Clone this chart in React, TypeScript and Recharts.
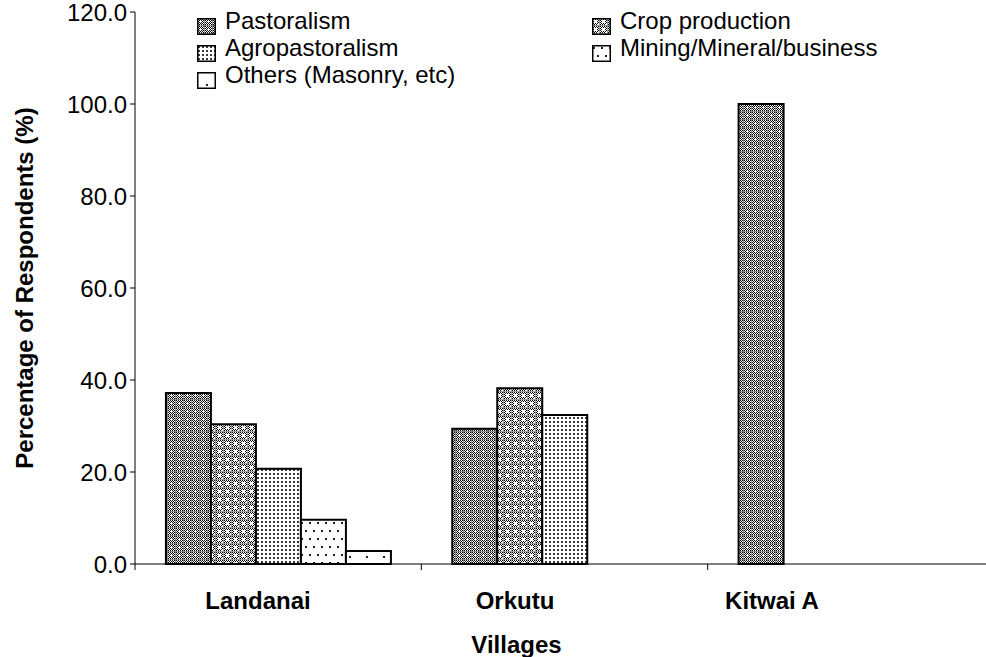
import React from 'react';
import { BarChart, Bar, XAxis, YAxis, Legend, Label } from 'recharts';

// ---- data ----
const villages = ['Landanai', 'Orkutu', 'Kitwai A'];
const pastoralism = [37.2, 29.4, 100.0];
const cropProduction = [30.4, 38.2, 0];
const agropastoralism = [20.7, 32.4, 0];
const mining = [9.6, 0, 0];
const others = [2.8, 0, 0];
const yTicks = [0, 20, 40, 60, 80, 100, 120];
const seriesNames = [
  'Pastoralism',
  'Crop production',
  'Agropastoralism',
  'Mining/Mineral/business',
  'Others (Masonry, etc)',
];
const seriesValues = [pastoralism, cropProduction, agropastoralism, mining, others];
const seriesKeys = ['past', 'crop', 'agro', 'mine', 'oth'];
const patternIds = ['patPast', 'patCrop', 'patAgro', 'patMin', 'patOth'];

const data = villages.map((v, i) => {
  const row: Record<string, string | number> = { village: v };
  seriesKeys.forEach((k, s) => {
    row[k] = seriesValues[s][i];
  });
  return row;
});

const FONT = '"Liberation Sans", Arial, Helvetica, sans-serif';

const checker = (size: number, skip: (i: number, j: number) => boolean) => {
  const out: React.ReactNode[] = [];
  for (let i = 0; i < size; i++) {
    for (let j = 0; j < size; j++) {
      if ((i + j) % 2 === 0 && !skip(i, j)) {
        out.push(<rect key={`${i}-${j}`} x={i} y={j} width={1} height={1} fill="#000" />);
      }
    }
  }
  return out;
};

const Patterns = () => (
  <svg width={0} height={0} style={{ position: 'absolute' }}>
    <defs>
      <pattern id="patPast" width={8} height={8} patternUnits="userSpaceOnUse">
        <rect width={8} height={8} fill="#fff" />
        {checker(8, (i, j) => i === 3 && j === 3)}
        <rect x={0} y={7} width={8} height={1} fill="#8a8a8a" />
        <rect x={7} y={0} width={1} height={8} fill="#8a8a8a" />
      </pattern>
      <pattern id="patCrop" width={8} height={8} patternUnits="userSpaceOnUse">
        <rect width={8} height={8} fill="#fff" />
        {checker(8, (i, j) => (i >= 2 && i <= 4 && j >= 2 && j <= 4) || (i === 6 && j === 6))}
        <rect x={0} y={7} width={8} height={1} fill="#9a9a9a" />
        <rect x={7} y={0} width={1} height={8} fill="#9a9a9a" />
      </pattern>
      <pattern id="patAgro" width={4} height={4} patternUnits="userSpaceOnUse">
        <rect width={4} height={4} fill="#fff" />
        <rect x={1} y={1} width={2} height={2} fill="#3a3a3a" />
      </pattern>
      <pattern id="patMin" width={8} height={16} patternUnits="userSpaceOnUse">
        <rect width={8} height={16} fill="#fff" />
        <rect x={1} y={2} width={2} height={2} fill="#222" />
        <rect x={5} y={10} width={2} height={2} fill="#222" />
      </pattern>
      <pattern id="patOth" width={17} height={17} patternUnits="userSpaceOnUse">
        <rect width={17} height={17} fill="#fff" />
        <rect x={9} y={12} width={2} height={2} fill="#222" />
      </pattern>
    </defs>
  </svg>
);

const renderBoundaryTick = (props: any) => {
  const { x, y, payload } = props;
  const bx = x - (payload?.offset ?? 0);
  return <line x1={bx} x2={bx} y1={y} y2={y + 6} stroke="#000" strokeWidth={1} />;
};

const LegendContent = () => (
  <div
    style={{
      display: 'grid',
      gridTemplateColumns: '395px 395px',
      fontFamily: FONT,
      fontSize: 24,
      lineHeight: '25px',
      color: '#000',
    }}
  >
    {seriesNames.map((n, i) => (
      <div key={n} style={{ display: 'flex', alignItems: 'flex-start', whiteSpace: 'nowrap' }}>
        <svg width={19} height={17} style={{ marginTop: 10, marginRight: 9, flex: 'none' }}>
          <rect x={0.75} y={0.75} width={17.5} height={15.5} fill={`url(#${patternIds[i]})`} stroke="#000" strokeWidth={1.5} />
        </svg>
        <span>{n}</span>
      </div>
    ))}
  </div>
);

export default function App() {
  return (
    <div style={{ position: 'absolute', left: 0, top: 0, width: 986, height: 657, overflow: 'hidden', background: '#fff' }}>
      <Patterns />
      <BarChart
        width={1000}
        height={657}
        data={data}
        margin={{ top: 12, right: 6, bottom: 0, left: 0 }}
        barCategoryGap="10.8%"
        barGap={0}
        style={{ fontFamily: FONT }}
      >
        <YAxis
          width={135}
          domain={[0, 120]}
          ticks={yTicks}
          tickFormatter={(v: number) => v.toFixed(1)}
          tick={{ fontSize: 24, fill: '#000', fontFamily: FONT }}
          tickSize={5}
          tickMargin={3}
          axisLine={{ stroke: '#000', strokeWidth: 1 }}
          tickLine={{ stroke: '#000', strokeWidth: 1 }}
          interval={0}
        >
          <Label
            value="Percentage of Respondents (%)"
            angle={-90}
            position="insideLeft"
            offset={24}
            style={{ textAnchor: 'middle', fontSize: 24, fontWeight: 'bold', fill: '#000', fontFamily: FONT }}
          />
        </YAxis>
        <XAxis
          dataKey="village"
          height={1}
          axisLine={{ stroke: '#000', strokeWidth: 1 }}
          tickLine={false}
          tickSize={0}
          tickMargin={0}
          tick={renderBoundaryTick}
          interval={0}
        />
        <XAxis
          xAxisId="lbl"
          dataKey="village"
          height={92}
          padding={{ left: -5.5, right: 93.5 }}
          axisLine={false}
          tickLine={false}
          tickSize={0}
          tickMargin={27}
          tick={{ fontSize: 24, fontWeight: 'bold', fill: '#000', fontFamily: FONT }}
          interval={0}
        >
          <Label
            value="Villages"
            position="insideBottom"
            offset={4}
            dx={-48}
            style={{ fontSize: 24, fontWeight: 'bold', fill: '#000', fontFamily: FONT }}
          />
        </XAxis>
        <Legend
          verticalAlign="middle"
          align="center"
          layout="horizontal"
          content={<LegendContent />}
          wrapperStyle={{ top: 8, left: 197, width: 800, height: 80 }}
        />
        {seriesKeys.map((k, i) => (
          <Bar
            key={k}
            dataKey={k}
            name={seriesNames[i]}
            fill={`url(#${patternIds[i]})`}
            stroke="#000"
            strokeWidth={2}
            isAnimationActive={false}
          />
        ))}
      </BarChart>
    </div>
  );
}
